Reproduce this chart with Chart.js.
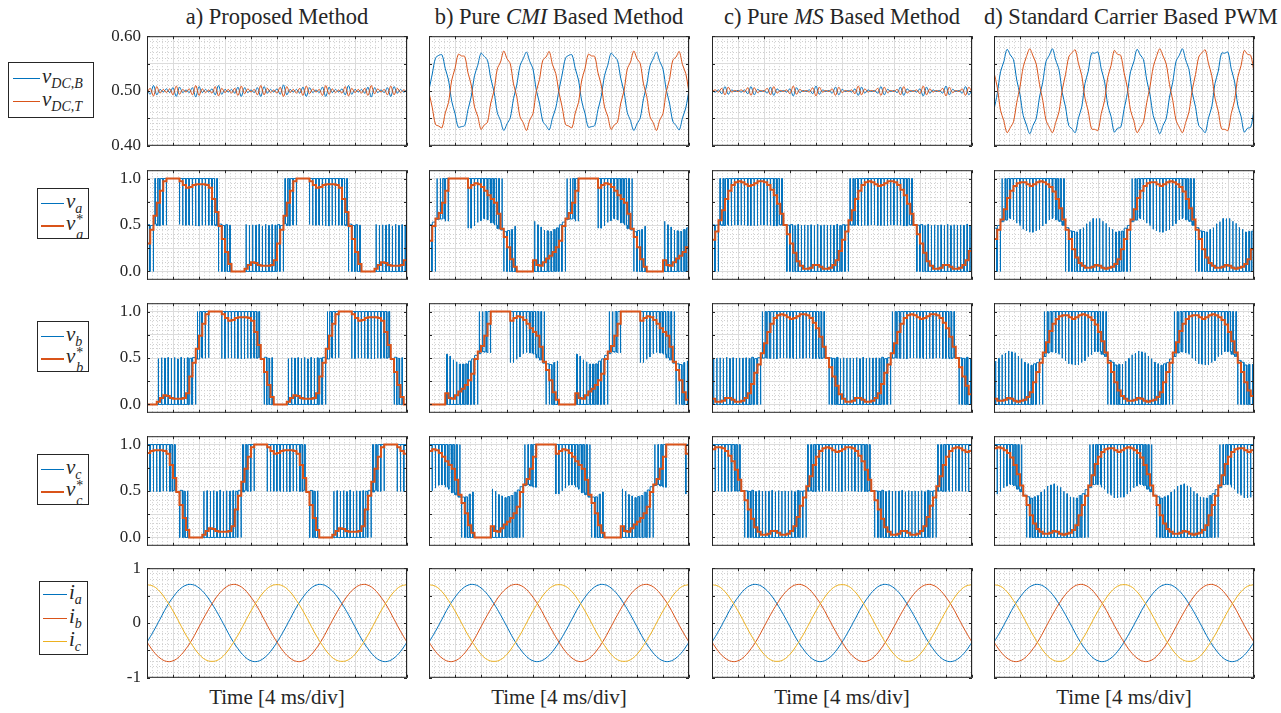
<!DOCTYPE html>
<html>
<head>
<meta charset="utf-8">
<script src="https://cdn.jsdelivr.net/npm/chart.js"></script>
<style>
body{margin:0;background:#fff;width:1281px;height:713px;position:relative;overflow:hidden;font-family:"Liberation Serif",serif;color:#262626}
canvas{position:absolute}
.title,.xlab{position:absolute;width:260px;text-align:center;font-size:21px;line-height:24px;white-space:nowrap}
.title{font-size:22.5px;margin-left:-10px;width:280px}
.leg{position:absolute;box-sizing:border-box;border:1px solid #262626;background:#fff}
.it{position:absolute;left:0;height:0}
.it .ln{position:absolute;top:0;height:0;border-top:1px solid}
.it .tx{position:absolute;top:-14px;line-height:24px;white-space:nowrap;font-style:italic;font-size:21px}
.sb{font-size:14px;position:relative;top:5px}
.ss{display:inline-block;position:relative;width:10px;height:10px}
.ss .u{position:absolute;left:1px;top:-12px;font-size:14px;font-style:normal}
.ss .d{position:absolute;left:1px;top:3px;font-size:14px}
</style>
</head>
<body>

<div class="title" style="left:147px;top:5px">a) Proposed Method</div>
<div class="title" style="left:429px;top:5px">b) Pure <i>CMI</i> Based Method</div>
<div class="title" style="left:712px;top:5px">c) Pure <i>MS</i> Based Method</div>
<div class="title" style="left:994px;top:5px">d) Standard Carrier Based PWM</div>

<div class="xlab" style="left:147px;top:685px">Time [4 ms/div]</div>
<div class="xlab" style="left:429px;top:685px">Time [4 ms/div]</div>
<div class="xlab" style="left:712px;top:685px">Time [4 ms/div]</div>
<div class="xlab" style="left:994px;top:685px">Time [4 ms/div]</div>

<div class="leg" style="left:8px;top:62px;width:86px;height:56px">
  <div class="it" style="top:15px"><div class="ln" style="left:4px;width:27px;border-color:#0072BD"></div><span class="tx" style="left:33px">v<span class="sb">DC,B</span></span></div>
  <div class="it" style="top:38px"><div class="ln" style="left:4px;width:27px;border-color:#D95319"></div><span class="tx" style="left:33px">v<span class="sb">DC,T</span></span></div>
</div>

<div class="leg" style="left:37px;top:188px;width:52px;height:51px">
  <div class="it" style="top:14px"><div class="ln" style="left:3px;width:23px;border-color:#0072BD"></div><span class="tx" style="left:28px">v<span class="sb">a</span></span></div>
  <div class="it" style="top:36px"><div class="ln" style="left:3px;width:23px;border-top-width:2px;border-color:#D95319"></div><span class="tx" style="left:28px">v<span class="ss"><span class="u">*</span><span class="d">a</span></span></span></div>
</div>
<div class="leg" style="left:37px;top:321px;width:52px;height:51px">
  <div class="it" style="top:14px"><div class="ln" style="left:3px;width:23px;border-color:#0072BD"></div><span class="tx" style="left:28px">v<span class="sb">b</span></span></div>
  <div class="it" style="top:36px"><div class="ln" style="left:3px;width:23px;border-top-width:2px;border-color:#D95319"></div><span class="tx" style="left:28px">v<span class="ss"><span class="u">*</span><span class="d">b</span></span></span></div>
</div>
<div class="leg" style="left:37px;top:454px;width:52px;height:51px">
  <div class="it" style="top:14px"><div class="ln" style="left:3px;width:23px;border-color:#0072BD"></div><span class="tx" style="left:28px">v<span class="sb">c</span></span></div>
  <div class="it" style="top:36px"><div class="ln" style="left:3px;width:23px;border-top-width:2px;border-color:#D95319"></div><span class="tx" style="left:28px">v<span class="ss"><span class="u">*</span><span class="d">c</span></span></span></div>
</div>

<div class="leg" style="left:39px;top:581px;width:49px;height:74px">
  <div class="it" style="top:12px"><div class="ln" style="left:3px;width:24px;border-color:#0072BD"></div><span class="tx" style="left:29px">i<span class="sb">a</span></span></div>
  <div class="it" style="top:36px"><div class="ln" style="left:3px;width:24px;border-color:#D95319"></div><span class="tx" style="left:29px">i<span class="sb">b</span></span></div>
  <div class="it" style="top:59px"><div class="ln" style="left:3px;width:24px;border-color:#EDB120"></div><span class="tx" style="left:29px">i<span class="sb">c</span></span></div>
</div>

<script>
// sample period of the voltage / dc-link traces [ms], currents every 1 ms
const dt = 0.5;
const dtI = 1;

// ---- dc-link voltages (row 1) ----
const dcB_a = [0.503,0.494,0.510,0.493,0.503,0.498,0.504,0.497,0.506,0.490,
  0.507,0.497,0.502,0.497,0.506,0.489,0.508,0.497,0.503,0.498,
  0.504,0.493,0.510,0.494,0.503,0.498,0.503,0.496,0.507,0.490,
  0.506,0.497,0.502,0.497,0.506,0.490,0.508,0.496,0.503,0.498,
  0.504,0.494,0.511,0.493,0.503,0.498,0.503,0.496,0.507,0.490,
  0.506,0.497,0.502,0.497,0.507,0.490,0.507,0.497,0.503,0.498,
  0.504,0.493,0.510,0.494,0.503,0.498,0.503,0.496,0.507,0.489,
  0.506,0.497,0.502,0.497,0.506,0.490,0.508,0.496,0.503,0.498,0.503];
const dcT_a = [0.497,0.505,0.491,0.508,0.496,0.503,0.497,0.504,0.493,0.509,
  0.494,0.503,0.498,0.504,0.493,0.510,0.492,0.504,0.497,0.502,
  0.496,0.508,0.491,0.505,0.497,0.503,0.496,0.505,0.492,0.509,
  0.495,0.504,0.498,0.503,0.493,0.510,0.493,0.505,0.497,0.502,
  0.496,0.507,0.490,0.508,0.497,0.503,0.496,0.505,0.492,0.509,
  0.495,0.504,0.498,0.503,0.492,0.510,0.494,0.504,0.497,0.502,
  0.496,0.508,0.491,0.505,0.497,0.503,0.496,0.505,0.492,0.510,
  0.495,0.504,0.498,0.503,0.493,0.509,0.493,0.505,0.497,0.502,0.497];

const dcB_b = [0.502,0.531,0.560,0.565,0.566,0.541,0.520,0.481,0.459,0.434,
  0.435,0.437,0.466,0.490,0.528,0.547,0.569,0.563,0.556,0.523,
  0.499,0.461,0.446,0.428,0.440,0.451,0.486,0.511,0.546,0.559,
  0.571,0.554,0.540,0.502,0.478,0.445,0.437,0.429,0.451,0.469,
  0.502,0.531,0.560,0.565,0.566,0.541,0.520,0.481,0.459,0.434,
  0.435,0.437,0.466,0.490,0.528,0.547,0.569,0.563,0.556,0.523,
  0.499,0.461,0.446,0.428,0.440,0.451,0.486,0.511,0.546,0.559,
  0.571,0.554,0.540,0.502,0.478,0.445,0.437,0.429,0.451,0.469,0.502];
const dcT_b = [0.497,0.470,0.439,0.436,0.433,0.460,0.479,0.520,0.541,0.567,
  0.564,0.563,0.533,0.511,0.471,0.454,0.430,0.438,0.443,0.478,
  0.500,0.540,0.553,0.573,0.559,0.550,0.513,0.490,0.453,0.442,
  0.428,0.447,0.459,0.499,0.521,0.556,0.562,0.572,0.548,0.532,
  0.497,0.470,0.439,0.436,0.433,0.460,0.479,0.520,0.541,0.567,
  0.564,0.563,0.533,0.511,0.471,0.454,0.430,0.438,0.443,0.478,
  0.500,0.540,0.553,0.573,0.559,0.550,0.513,0.490,0.453,0.442,
  0.428,0.447,0.459,0.499,0.521,0.556,0.562,0.572,0.548,0.532,0.497];

const dcB_c = [0.501,0.498,0.502,0.495,0.508,0.494,0.502,0.499,0.501,0.498,
  0.502,0.495,0.508,0.493,0.503,0.499,0.501,0.496,0.507,0.492,
  0.504,0.499,0.501,0.498,0.504,0.491,0.506,0.497,0.501,0.499,
  0.502,0.495,0.509,0.494,0.502,0.499,0.501,0.496,0.507,0.493,
  0.503,0.499,0.501,0.498,0.504,0.492,0.507,0.496,0.502,0.499,
  0.501,0.496,0.508,0.493,0.503,0.499,0.501,0.497,0.507,0.492,
  0.504,0.499,0.501,0.498,0.504,0.491,0.507,0.496,0.502,0.499,
  0.501,0.496,0.509,0.493,0.503,0.499,0.501,0.496,0.508,0.493,0.502];
const dcT_c = [0.499,0.502,0.498,0.505,0.493,0.507,0.498,0.501,0.499,0.502,
  0.498,0.506,0.492,0.506,0.497,0.501,0.499,0.505,0.493,0.508,
  0.496,0.501,0.499,0.502,0.495,0.509,0.494,0.503,0.499,0.501,
  0.498,0.506,0.491,0.507,0.498,0.501,0.499,0.504,0.492,0.507,
  0.497,0.501,0.499,0.502,0.495,0.509,0.493,0.504,0.498,0.501,
  0.499,0.505,0.492,0.507,0.497,0.501,0.499,0.503,0.493,0.508,
  0.496,0.501,0.499,0.502,0.495,0.509,0.493,0.504,0.498,0.501,
  0.499,0.505,0.491,0.507,0.497,0.501,0.499,0.504,0.492,0.507,0.498];

const dcB_d = [0.466,0.495,0.535,0.553,0.576,0.566,0.557,0.520,0.493,0.455,
  0.438,0.422,0.437,0.450,0.489,0.516,0.554,0.565,0.577,0.556,
  0.539,0.497,0.471,0.437,0.431,0.424,0.451,0.471,0.514,0.536,
  0.569,0.569,0.571,0.540,0.518,0.474,0.454,0.425,0.432,0.434,
  0.466,0.495,0.535,0.553,0.576,0.566,0.557,0.520,0.493,0.455,
  0.438,0.422,0.437,0.450,0.489,0.516,0.554,0.565,0.577,0.556,
  0.539,0.497,0.471,0.437,0.431,0.424,0.451,0.471,0.514,0.536,
  0.569,0.569,0.571,0.540,0.518,0.474,0.454,0.425,0.432,0.434,0.466];
const dcT_d = [0.534,0.507,0.465,0.446,0.424,0.433,0.444,0.479,0.508,0.544,
  0.563,0.577,0.564,0.549,0.512,0.483,0.447,0.434,0.424,0.443,
  0.462,0.502,0.530,0.562,0.570,0.575,0.550,0.528,0.487,0.463,
  0.431,0.430,0.428,0.459,0.482,0.525,0.546,0.574,0.567,0.565,
  0.534,0.507,0.465,0.446,0.424,0.433,0.444,0.479,0.508,0.544,
  0.563,0.577,0.564,0.549,0.512,0.483,0.447,0.434,0.424,0.443,
  0.462,0.502,0.530,0.562,0.570,0.575,0.550,0.528,0.487,0.463,
  0.431,0.430,0.428,0.459,0.482,0.525,0.546,0.574,0.567,0.565,0.534];

// ---- phase voltage references v* (rows 2-4) ----
const va_a = [0.30,0.45,0.60,0.74,0.87,0.97,1,1,1,1,0.97,0.93,0.90,0.91,0.93,0.94,0.94,0.94,0.93,0.90,
  0.78,0.64,0.49,0.35,0.21,0.08,0,0,0,0,0.03,0.07,0.10,0.09,0.07,0.06,0.06,0.06,0.07,0.12,
  0.30,0.45,0.60,0.74,0.87,0.97,1,1,1,1,0.97,0.93,0.90,0.91,0.93,0.94,0.94,0.94,0.93,0.90,
  0.78,0.64,0.49,0.35,0.21,0.08,0,0,0,0,0.03,0.07,0.10,0.09,0.07,0.06,0.06,0.06,0.07,0.12,0.30];
const vb_a = [0,0,0,0.03,0.07,0.10,0.09,0.07,0.06,0.06,0.06,0.07,0.12,0.30,0.45,0.60,0.74,0.87,0.97,1,
  1,1,1,0.97,0.93,0.90,0.91,0.93,0.94,0.94,0.94,0.93,0.90,0.78,0.64,0.49,0.35,0.21,0.08,0,
  0,0,0,0.03,0.07,0.10,0.09,0.07,0.06,0.06,0.06,0.07,0.12,0.30,0.45,0.60,0.74,0.87,0.97,1,
  1,1,1,0.97,0.93,0.90,0.91,0.93,0.94,0.94,0.94,0.93,0.90,0.78,0.64,0.49,0.35,0.21,0.08,0,0];
const vc_a = [0.91,0.93,0.94,0.94,0.94,0.93,0.90,0.78,0.64,0.49,0.35,0.21,0.08,0,0,0,0,0.03,0.07,0.10,
  0.09,0.07,0.06,0.06,0.06,0.07,0.12,0.30,0.45,0.60,0.74,0.87,0.97,1,1,1,1,0.97,0.93,0.90,
  0.91,0.93,0.94,0.94,0.94,0.93,0.90,0.78,0.64,0.49,0.35,0.21,0.08,0,0,0,0,0.03,0.07,0.10,
  0.09,0.07,0.06,0.06,0.06,0.07,0.12,0.30,0.45,0.60,0.74,0.87,0.97,1,1,1,1,0.97,0.93,0.90,0.91];

const va_b = [0.33,0.49,0.57,0.63,0.74,0.87,1,1,1,1,1,1,0.90,0.93,0.95,0.94,0.91,0.87,0.82,0.78,
  0.74,0.62,0.46,0.37,0.26,0.13,0.05,0,0,0,0,0,0.12,0.07,0.06,0.10,0.14,0.17,0.21,0.26,
  0.33,0.49,0.57,0.63,0.74,0.87,1,1,1,1,1,1,0.90,0.93,0.95,0.94,0.91,0.87,0.82,0.78,
  0.74,0.62,0.46,0.37,0.26,0.13,0.05,0,0,0,0,0,0.12,0.07,0.06,0.10,0.14,0.17,0.21,0.26,0.33];
const vb_b = [0,0,0,0,0,0.12,0.07,0.06,0.10,0.14,0.17,0.21,0.26,0.33,0.49,0.57,0.63,0.74,0.87,1,
  1,1,1,1,1,0.90,0.93,0.95,0.94,0.91,0.87,0.82,0.78,0.74,0.62,0.46,0.37,0.26,0.13,0.05,
  0,0,0,0,0,0.12,0.07,0.06,0.10,0.14,0.17,0.21,0.26,0.33,0.49,0.57,0.63,0.74,0.87,1,
  1,1,1,1,1,0.90,0.93,0.95,0.94,0.91,0.87,0.82,0.78,0.74,0.62,0.46,0.37,0.26,0.13,0.05,0];
const vc_b = [0.93,0.95,0.94,0.91,0.87,0.82,0.78,0.74,0.62,0.46,0.37,0.26,0.13,0.05,0,0,0,0,0,0.12,
  0.07,0.06,0.10,0.14,0.17,0.21,0.26,0.33,0.49,0.57,0.63,0.74,0.87,1,1,1,1,1,1,0.90,
  0.93,0.95,0.94,0.91,0.87,0.82,0.78,0.74,0.62,0.46,0.37,0.26,0.13,0.05,0,0,0,0,0,0.12,
  0.07,0.06,0.10,0.14,0.17,0.21,0.26,0.33,0.49,0.57,0.63,0.74,0.87,1,1,1,1,1,1,0.90,0.93];

const va_c = [0.34,0.43,0.55,0.66,0.78,0.87,0.93,0.96,0.97,0.96,0.94,0.92,0.93,0.95,0.97,0.97,0.96,0.93,0.88,0.82,
  0.73,0.62,0.50,0.40,0.30,0.20,0.11,0.06,0.03,0.03,0.04,0.07,0.07,0.05,0.03,0.03,0.04,0.07,0.12,0.22,
  0.34,0.43,0.55,0.66,0.78,0.87,0.93,0.96,0.97,0.96,0.94,0.92,0.93,0.95,0.97,0.97,0.96,0.93,0.88,0.82,
  0.73,0.62,0.50,0.40,0.30,0.20,0.11,0.06,0.03,0.03,0.04,0.07,0.07,0.05,0.03,0.03,0.04,0.07,0.12,0.22,0.34];
const vb_c = [0.06,0.03,0.03,0.04,0.07,0.07,0.05,0.03,0.03,0.04,0.07,0.12,0.22,0.34,0.43,0.55,0.66,0.78,0.87,0.93,
  0.96,0.97,0.96,0.94,0.92,0.93,0.95,0.97,0.97,0.96,0.93,0.88,0.82,0.73,0.62,0.50,0.40,0.30,0.20,0.11,
  0.06,0.03,0.03,0.04,0.07,0.07,0.05,0.03,0.03,0.04,0.07,0.12,0.22,0.34,0.43,0.55,0.66,0.78,0.87,0.93,
  0.96,0.97,0.96,0.94,0.92,0.93,0.95,0.97,0.97,0.96,0.93,0.88,0.82,0.73,0.62,0.50,0.40,0.30,0.20,0.11,0.06];
const vc_c = [0.95,0.97,0.97,0.96,0.93,0.88,0.82,0.73,0.62,0.50,0.40,0.30,0.20,0.11,0.06,0.03,0.03,0.04,0.07,0.07,
  0.05,0.03,0.03,0.04,0.07,0.12,0.22,0.34,0.43,0.55,0.66,0.78,0.87,0.93,0.96,0.97,0.96,0.94,0.92,0.93,
  0.95,0.97,0.97,0.96,0.93,0.88,0.82,0.73,0.62,0.50,0.40,0.30,0.20,0.11,0.06,0.03,0.03,0.04,0.07,0.07,
  0.05,0.03,0.03,0.04,0.07,0.12,0.22,0.34,0.43,0.55,0.66,0.78,0.87,0.93,0.96,0.97,0.96,0.94,0.92,0.93,0.95];

const va_d = [0.35,0.45,0.56,0.67,0.79,0.87,0.92,0.95,0.96,0.96,0.94,0.92,0.94,0.96,0.97,0.96,0.94,0.91,0.86,0.78,
  0.68,0.56,0.45,0.35,0.24,0.15,0.09,0.06,0.04,0.04,0.05,0.07,0.06,0.04,0.03,0.04,0.05,0.08,0.13,0.24,
  0.35,0.45,0.56,0.67,0.79,0.87,0.92,0.95,0.96,0.96,0.94,0.92,0.94,0.96,0.97,0.96,0.94,0.91,0.86,0.78,
  0.68,0.56,0.45,0.35,0.24,0.15,0.09,0.06,0.04,0.04,0.05,0.07,0.06,0.04,0.03,0.04,0.05,0.08,0.13,0.24,0.35];
const vb_d = [0.06,0.04,0.04,0.05,0.07,0.06,0.04,0.03,0.04,0.05,0.08,0.13,0.24,0.35,0.45,0.56,0.67,0.79,0.87,0.92,
  0.95,0.96,0.96,0.94,0.92,0.94,0.96,0.97,0.96,0.94,0.91,0.86,0.78,0.68,0.56,0.45,0.35,0.24,0.15,0.09,
  0.06,0.04,0.04,0.05,0.07,0.06,0.04,0.03,0.04,0.05,0.08,0.13,0.24,0.35,0.45,0.56,0.67,0.79,0.87,0.92,
  0.95,0.96,0.96,0.94,0.92,0.94,0.96,0.97,0.96,0.94,0.91,0.86,0.78,0.68,0.56,0.45,0.35,0.24,0.15,0.09,0.06];
const vc_d = [0.96,0.97,0.96,0.94,0.91,0.86,0.78,0.68,0.56,0.45,0.35,0.24,0.15,0.09,0.06,0.04,0.04,0.05,0.07,0.06,
  0.04,0.03,0.04,0.05,0.08,0.13,0.24,0.35,0.45,0.56,0.67,0.79,0.87,0.92,0.95,0.96,0.96,0.94,0.92,0.94,
  0.96,0.97,0.96,0.94,0.91,0.86,0.78,0.68,0.56,0.45,0.35,0.24,0.15,0.09,0.06,0.04,0.04,0.05,0.07,0.06,
  0.04,0.03,0.04,0.05,0.08,0.13,0.24,0.35,0.45,0.56,0.67,0.79,0.87,0.92,0.95,0.96,0.96,0.94,0.92,0.94,0.96];

// ---- phase currents (row 5), same in all four columns ----
const iA = [-0.35,-0.15,0.07,0.29,0.47,0.61,0.69,0.70,0.64,0.52,0.35,0.15,-0.07,-0.29,-0.47,-0.61,-0.69,-0.70,-0.64,-0.52,
  -0.35,-0.15,0.07,0.29,0.47,0.61,0.69,0.70,0.64,0.52,0.35,0.15,-0.07,-0.29,-0.47,-0.61,-0.69,-0.70,-0.64,-0.52,-0.35];
const iB = [-0.35,-0.52,-0.64,-0.70,-0.69,-0.61,-0.47,-0.29,-0.07,0.15,0.35,0.52,0.64,0.70,0.69,0.61,0.47,0.29,0.07,-0.15,
  -0.35,-0.52,-0.64,-0.70,-0.69,-0.61,-0.47,-0.29,-0.07,0.15,0.35,0.52,0.64,0.70,0.69,0.61,0.47,0.29,0.07,-0.15,-0.35];
const iC = [0.70,0.67,0.57,0.41,0.22,0,-0.22,-0.41,-0.57,-0.67,-0.70,-0.67,-0.57,-0.41,-0.22,0,0.22,0.41,0.57,0.67,
  0.70,0.67,0.57,0.41,0.22,0,-0.22,-0.41,-0.57,-0.67,-0.70,-0.67,-0.57,-0.41,-0.22,0,0.22,0.41,0.57,0.67,0.70];

// ---- axes ----
const xTicks = [0,4,8,12,16,20,24,28,32,36,40];
const dcTicks = [0.40,0.45,0.50,0.55,0.60];
const dcLabels = ['0.40','','0.50','','0.60'];
const vTicks = [0,0.25,0.5,0.75,1];
const vLabels = ['0.0','','0.5','','1.0'];
const iTicks = [-1,-0.5,0,0.5,1];
const iLabels = ['-1','','0','','1'];

const BLUE = '#0072BD', ORANGE = '#D95319', YELLOW = '#EDB120';
const COL_LEFT = [147, 429, 712, 994];
const ROW_TOP = [34, 168, 301, 434, 566];
const PW = 260, PH = 114, ML = 56, MR = 5, MT = 14, MB = 14;

const columns = [
  {dcB: dcB_a, dcT: dcT_a, v: [va_a, vb_a, vc_a]},
  {dcB: dcB_b, dcT: dcT_b, v: [va_b, vb_b, vc_b]},
  {dcB: dcB_c, dcT: dcT_c, v: [va_c, vb_c, vc_c]},
  {dcB: dcB_d, dcT: dcT_d, v: [va_d, vb_d, vc_d]}
];

function series(arr, step) {
  return arr.map((v, k) => ({x: k * step, y: v}));
}

// blue switched phase voltage: in each sample period it toggles between
// the two levels around the reference (0 / mid dc point / 1)
function pwm(ref, mid) {
  const pts = [];
  for (let k = 0; k < ref.length - 1; k++) {
    const t0 = k * dt, r = ref[k], m = mid[k];
    const lo = r >= m ? m : 0, hi = r >= m ? 1 : m;
    const d = Math.min(1, Math.max(0, (r - lo) / (hi - lo)));
    if (d > 0.985) {
      pts.push({x: t0, y: hi}, {x: t0 + dt, y: hi});
    } else if (d < 0.015) {
      pts.push({x: t0, y: lo}, {x: t0 + dt, y: lo});
    } else {
      const a = t0 + (1 - d) * dt / 2, b = t0 + (1 + d) * dt / 2;
      pts.push({x: t0, y: lo}, {x: a, y: lo}, {x: a, y: hi}, {x: b, y: hi}, {x: b, y: lo}, {x: t0 + dt, y: lo});
    }
  }
  return pts;
}

function minorList(lo, hi, step, every) {
  const out = [];
  const n = Math.round((hi - lo) / step);
  for (let i = 0; i <= n; i++) if (i % every) out.push({value: lo + i * step});
  return out;
}

const boxPlugin = {
  id: 'box',
  afterDraw(chart) {
    const {ctx, chartArea: a, scales} = chart;
    ctx.save();
    ctx.strokeStyle = '#262626';
    ctx.lineWidth = 1;
    ctx.strokeRect(a.left + 0.5, a.top + 0.5, a.right - a.left - 1, a.bottom - a.top - 1);
    ctx.beginPath();
    scales.x.ticks.forEach(t => {
      const px = Math.round(scales.x.getPixelForValue(t.value)) + 0.5;
      ctx.moveTo(px, a.bottom); ctx.lineTo(px, a.bottom - 3);
      ctx.moveTo(px, a.top); ctx.lineTo(px, a.top + 3);
    });
    scales.y.ticks.forEach(t => {
      const py = Math.round(scales.y.getPixelForValue(t.value)) + 0.5;
      ctx.moveTo(a.left, py); ctx.lineTo(a.left + 3, py);
      ctx.moveTo(a.right, py); ctx.lineTo(a.right - 3, py);
    });
    ctx.stroke();
    ctx.restore();
  }
};

function panel(ci, ri, datasets, yMin, yMax, ticks, labels, minorStep, minorEvery) {
  const cv = document.createElement('canvas');
  cv.width = PW + ML + MR;
  cv.height = PH + MT + MB;
  cv.style.left = (COL_LEFT[ci] - ML) + 'px';
  cv.style.top = (ROW_TOP[ri] - MT) + 'px';
  document.body.appendChild(cv);
  const yMinor = minorList(ticks[0], ticks[ticks.length - 1], minorStep, minorEvery);
  new Chart(cv, {
    type: 'line',
    data: {datasets: datasets},
    options: {
      responsive: false,
      animation: false,
      events: [],
      layout: {padding: {left: 0, right: MR, top: MT, bottom: MB}},
      plugins: {legend: {display: false}, tooltip: {enabled: false}},
      elements: {point: {radius: 0}},
      scales: {
        xm: {
          type: 'linear', axis: 'x', position: 'bottom', min: 0, max: 40,
          afterBuildTicks: s => { s.ticks = minorList(0, 40, 0.8, 5); },
          afterFit: s => { s.height = 0; },
          ticks: {display: false},
          grid: {color: '#cfcfcf', drawTicks: false},
          border: {display: false, dash: [1, 2]}
        },
        ym: {
          type: 'linear', axis: 'y', position: 'left', min: yMin, max: yMax,
          afterBuildTicks: s => { s.ticks = yMinor; },
          afterFit: s => { s.width = 0; },
          ticks: {display: false},
          grid: {color: '#cfcfcf', drawTicks: false},
          border: {display: false, dash: [1, 2]}
        },
        x: {
          type: 'linear', position: 'bottom', min: 0, max: 40,
          afterBuildTicks: s => { s.ticks = xTicks.map(v => ({value: v})); },
          afterFit: s => { s.height = 0; },
          ticks: {display: false},
          grid: {color: '#dcdcdc', drawTicks: false},
          border: {display: false}
        },
        y: {
          type: 'linear', position: 'left', min: yMin, max: yMax,
          afterBuildTicks: s => { s.ticks = ticks.map(v => ({value: v})); },
          afterFit: s => { s.width = ML; },
          ticks: {
            autoSkip: false, padding: 6, color: '#262626',
            font: {family: 'Liberation Serif', size: 17},
            callback: (v, i) => ci === 0 ? labels[i] : ''
          },
          grid: {color: '#dcdcdc', drawTicks: false},
          border: {display: false}
        }
      }
    },
    plugins: [boxPlugin]
  });
}

function trace(data, color, width, extra) {
  return Object.assign({data: data, borderColor: color, borderWidth: width, pointRadius: 0,
    fill: false, xAxisID: 'x', yAxisID: 'y', parsing: false}, extra || {});
}

columns.forEach((c, ci) => {
  panel(ci, 0, [
    trace(series(c.dcT, dt), ORANGE, 1, {tension: 0.3}),
    trace(series(c.dcB, dt), BLUE, 1, {tension: 0.3})
  ], 0.40, 0.60, dcTicks, dcLabels, 0.01, 5);

  c.v.forEach((ref, j) => {
    panel(ci, j + 1, [
      trace(series(ref, dt), ORANGE, 2, {stepped: true}),
      trace(pwm(ref, c.dcB), BLUE, 1)
    ], -0.09, 1.09, vTicks, vLabels, 0.05, 5);
  });

  panel(ci, 4, [
    trace(series(iC, dtI), YELLOW, 1, {tension: 0.4}),
    trace(series(iB, dtI), ORANGE, 1, {tension: 0.4}),
    trace(series(iA, dtI), BLUE, 1, {tension: 0.4})
  ], -1, 1, iTicks, iLabels, 0.1, 5);
});
</script>
</body>
</html>
